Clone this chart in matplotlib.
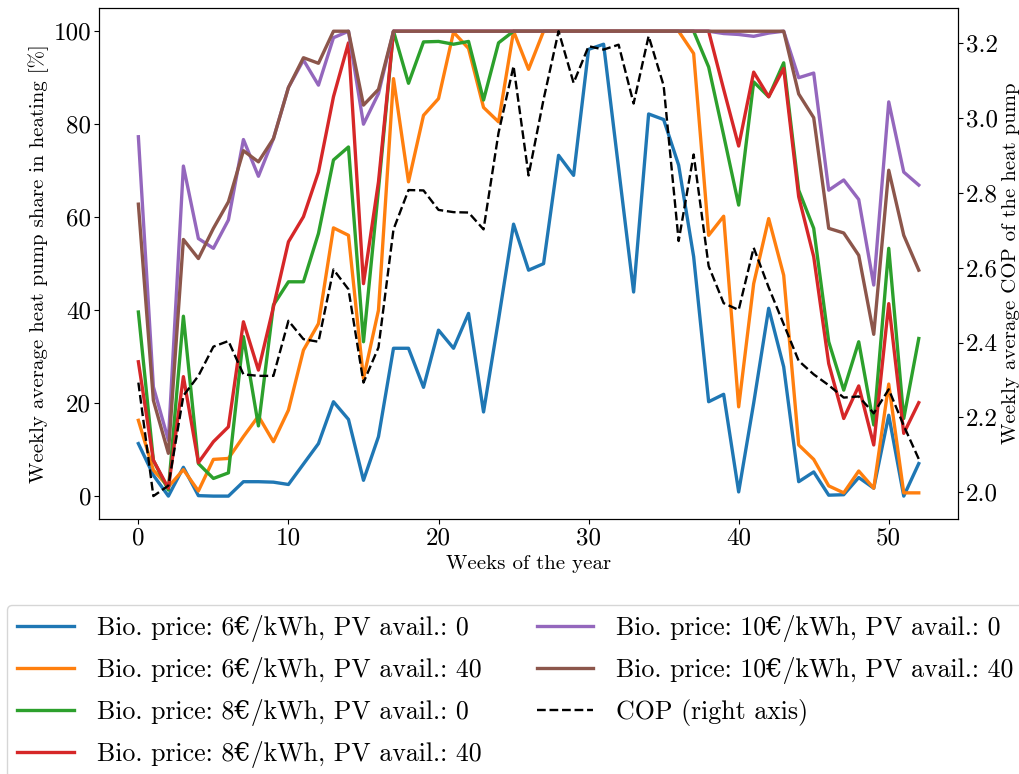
import matplotlib
matplotlib.use("Agg")
import matplotlib.pyplot as plt
import numpy as np

plt.rcParams["font.family"] = ["cmr10", "DejaVu Serif"]
plt.rcParams["axes.unicode_minus"] = False

weeks = np.arange(53)

# Weekly heat pump share in heating [%]
share_6_0 = [11.3, 4.5, 0.0, 6.2, 0.1, 0.0, 0.0, 3.1, 3.1, 3.0,
             2.5, 6.9, 11.3, 20.3, 16.5, 3.4, 12.8, 31.8, 31.8, 23.4,
             35.7, 31.8, 39.3, 18.1, 38.0, 58.5, 48.6, 50.0, 73.3, 69.0,
             96.1, 97.2, 70.5, 43.9, 82.2, 81.0, 71.2, 51.5, 20.3, 21.9,
             0.9, 20.0, 40.4, 27.8, 3.1, 5.2, 0.2, 0.3, 4.0, 1.7,
             17.4, 0.0, 7.0]
share_6_40 = [16.3, 5.6, 2.0, 5.7, 1.1, 7.9, 8.1, 12.8, 17.2, 11.7,
              18.5, 31.4, 37.1, 57.7, 56.1, 25.3, 40.0, 89.8, 67.6, 81.9,
              85.5, 99.8, 96.3, 83.6, 80.5, 100.0, 91.8, 100.0, 100.0, 100.0,
              100.0, 100.0, 100.0, 100.0, 100.0, 100.0, 100.0, 95.2, 56.1, 60.2,
              19.2, 45.7, 59.7, 47.5, 11.0, 7.9, 2.2, 0.7, 5.4, 1.7,
              24.1, 0.7, 0.7]
share_8_0 = [39.6, 7.7, 1.3, 38.7, 7.0, 3.8, 5.0, 34.3, 15.1, 41.1,
             46.1, 46.1, 56.5, 72.3, 75.1, 33.2, 66.0, 100.0, 88.8, 97.7,
             97.8, 97.2, 97.8, 85.2, 97.5, 100.0, 100.0, 100.0, 100.0, 100.0,
             100.0, 100.0, 100.0, 100.0, 100.0, 100.0, 100.0, 100.0, 92.3, 77.6,
             62.6, 89.1, 85.9, 93.2, 65.8, 57.6, 33.2, 22.8, 33.2, 15.3,
             53.3, 16.7, 33.9]
share_8_40 = [28.9, 7.7, 1.7, 25.7, 7.2, 11.7, 14.9, 37.5, 27.1, 40.7,
              54.7, 60.1, 69.7, 85.9, 97.5, 45.7, 67.6, 100.0, 100.0, 100.0,
              100.0, 100.0, 100.0, 100.0, 100.0, 100.0, 100.0, 100.0, 100.0, 100.0,
              100.0, 100.0, 100.0, 100.0, 100.0, 100.0, 100.0, 100.0, 100.0, 87.5,
              75.3, 91.2, 85.9, 92.0, 64.4, 51.5, 28.5, 16.7, 23.7, 11.0,
              41.4, 13.5, 20.1]
share_10_0 = [77.3, 23.5, 12.0, 71.0, 55.4, 53.3, 59.4, 76.7, 68.8, 76.9,
              87.9, 93.8, 88.4, 98.6, 100.0, 80.0, 86.6, 100.0, 100.0, 100.0,
              100.0, 100.0, 100.0, 100.0, 100.0, 100.0, 100.0, 100.0, 100.0, 100.0,
              100.0, 100.0, 100.0, 100.0, 100.0, 100.0, 100.0, 100.0, 100.0, 99.5,
              99.3, 98.9, 99.6, 100.0, 90.0, 91.0, 65.8, 68.0, 63.8, 45.4,
              84.8, 69.7, 66.9]
share_10_40 = [62.8, 20.6, 9.2, 55.2, 51.1, 57.6, 63.3, 74.3, 71.9, 76.9,
               87.9, 94.3, 93.1, 100.0, 100.0, 84.1, 87.5, 100.0, 100.0, 100.0,
               100.0, 100.0, 100.0, 100.0, 100.0, 100.0, 100.0, 100.0, 100.0, 100.0,
               100.0, 100.0, 100.0, 100.0, 100.0, 100.0, 100.0, 100.0, 100.0, 100.0,
               100.0, 100.0, 100.0, 100.0, 86.5, 81.4, 57.6, 56.6, 51.8, 34.8,
               70.1, 56.1, 48.6]

# Weekly average COP of the heat pump
cop = [2.293, 1.990, 2.018, 2.258, 2.311, 2.389, 2.404, 2.315, 2.311, 2.311,
       2.458, 2.409, 2.402, 2.595, 2.542, 2.293, 2.387, 2.702, 2.807, 2.806,
       2.754, 2.748, 2.747, 2.702, 2.960, 3.138, 2.846, 3.049, 3.231, 3.093,
       3.191, 3.182, 3.195, 3.038, 3.218, 3.086, 2.671, 2.902, 2.604, 2.505,
       2.487, 2.653, 2.547, 2.449, 2.351, 2.315, 2.286, 2.253, 2.256, 2.211,
       2.275, 2.178, 2.089]

series = [share_6_0, share_6_40, share_8_0, share_8_40, share_10_0, share_10_40]
labels = [
    "Bio. price: 6€/kWh, PV avail.: 0",
    "Bio. price: 6€/kWh, PV avail.: 40",
    "Bio. price: 8€/kWh, PV avail.: 0",
    "Bio. price: 8€/kWh, PV avail.: 40",
    "Bio. price: 10€/kWh, PV avail.: 0",
    "Bio. price: 10€/kWh, PV avail.: 40",
]


def main():
    fig = plt.figure(figsize=(10.2, 7.74), dpi=100)
    ax = fig.add_axes([0.0974, 0.329, 0.8416, 0.6607])
    ax2 = ax.twinx()

    handles = []
    for i, (vals, lab) in enumerate(zip(series, labels)):
        (ln,) = ax.plot(weeks, vals, color=f"C{i}", lw=2.4, label=lab)
        handles.append(ln)
    (ln_cop,) = ax2.plot(weeks, cop, color="black", ls="--", lw=1.7,
                         label="COP (right axis)")
    handles.append(ln_cop)

    ax.set_xlabel("Weeks of the year", fontsize=15)
    ax.set_ylabel("Weekly average heat pump share in heating [%]", fontsize=15,
                  labelpad=3)
    ax2.set_ylabel("Weekly average COP of the heat pump", fontsize=15,
                   labelpad=2.5)
    ax.tick_params(labelsize=18, pad=2.5)
    ax2.tick_params(labelsize=18, pad=2.5)

    # legend below the axes, its right side runs past the figure edge
    fig.legend(handles=handles, loc="upper left", ncol=2, fontsize=18.6,
               handlelength=2.19, handletextpad=0.88, columnspacing=2.15,
               labelspacing=0.57, borderaxespad=0,
               bbox_to_anchor=(0.0069, 0.2183))

    fig.savefig("out.png", dpi=100)
    plt.close(fig)


if __name__ == "__main__":
    main()
